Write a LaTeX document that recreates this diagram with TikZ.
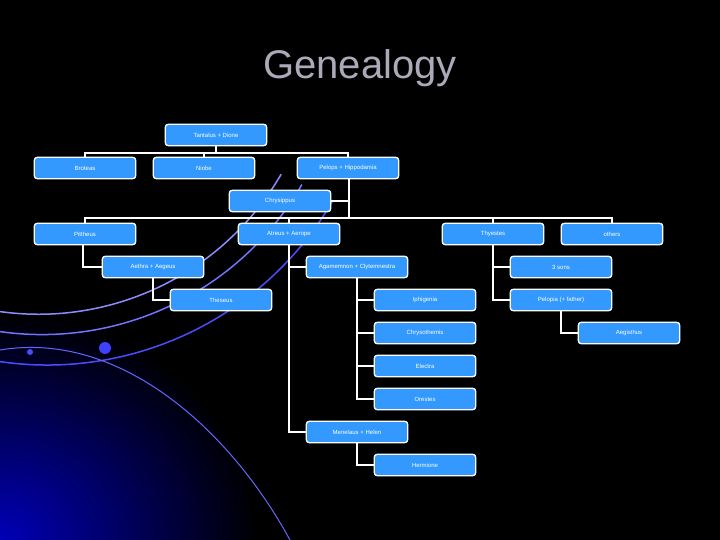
\documentclass[tikz,border=0pt]{standalone}
\usepackage{fontspec}
\setmainfont{Liberation Sans}
\definecolor{boxblue}{RGB}{51,153,255}
\definecolor{titlegrey}{RGB}{170,170,185}
\begin{document}
\begin{tikzpicture}[x=1pt,y=-1pt,
  person/.style={draw=white,line width=0.8pt,fill=boxblue,rounded corners=3pt,minimum width=101pt,minimum height=21pt,inner sep=0pt,text=white,font=\fontsize{6}{7}\selectfont},
  link/.style={draw=white,line width=2.6pt}]
\fill[black] (0,0) rectangle (720,540);
\useasboundingbox (0,0) rectangle (720,540);
% background swoosh
\begin{scope}
\clip (0,0) rectangle (720,540);
\shade[inner color=blue!80!black,outer color=black,opacity=0.9] (0,540) ellipse (260 and 230);
\foreach \r/\c in {330/blue!70,300/blue!55,280/blue!45}{
  \draw[\c,line width=1.5pt] (-10,\r+30) arc[start angle=100,end angle=30,radius=\r];}
\draw[blue!60,line width=1pt] (0,350) .. controls (120,330) and (230,430) .. (290,540);
\fill[blue!70] (30,352) circle (3);
\fill[blue!75] (105,348) circle (6);
\end{scope}
\node[text=titlegrey,font=\fontsize{40}{44}\selectfont] (title) at (360,68) {Genealogy};
% nodes
\node[person] (tan) at (216,135) {Tantalus + Dione};
\node[person] (bro) at (85,168) {Broteas};
\node[person] (nio) at (204,168) {Niobe};
\node[person] (pel) at (348,168) {Pelops + Hippodamia};
\node[person] (chr) at (280,201) {Chrysippus};
\node[person] (pit) at (85,234) {Pittheus};
\node[person] (atr) at (289,234) {Atreus + Aerope};
\node[person] (thy) at (493,234) {Thyestes};
\node[person] (oth) at (612,234) {others};
\node[person] (aet) at (153,267) {Aethra + Aegeus};
\node[person] (aga) at (357,267) {Agamemnon + Clytemnestra};
\node[person] (son) at (561,267) {3 sons};
\node[person] (the) at (221,300) {Theseus};
\node[person] (iph) at (425,300) {Iphigenia};
\node[person] (pla) at (561,300) {Pelopia (+ father)};
\node[person] (cht) at (425,333) {Chrysothemis};
\node[person] (aeg) at (629,333) {Aegisthus};
\node[person] (ele) at (425,366) {Electra};
\node[person] (ore) at (425,399) {Orestes};
\node[person] (men) at (357,432) {Menelaus + Helen};
\node[person] (her) at (425,465) {Hermione};
% connectors
\begin{scope}[on background layer/.style={}]
\end{scope}
\coordinate (b1) at (216,153);
\draw[link] (tan.south) -- (b1);
\draw[link] (bro.north) |- (b1);
\draw[link] (nio.north) -- (nio.north |- b1);
\draw[link] (pel.north) |- (b1);
\coordinate (b2) at (349,218);
\draw[link] (pel.south -| b2) -- (b2);
\draw[link] (chr.east) -| (b2);
\draw[link] (pit.north) |- (b2);
\draw[link] (atr.north) -- (atr.north |- b2);
\draw[link] (thy.north) -- (thy.north |- b2);
\draw[link] (oth.north) |- (b2);
\draw[link] ([xshift=-2pt]pit.south) |- (aet.west);
\draw[link] (aet.south) |- (the.west);
\draw[link] (atr.south) |- (aga.west);
\draw[link] (atr.south) |- (men.west);
\draw[link] (aga.south) |- (iph.west);
\draw[link] (aga.south) |- (cht.west);
\draw[link] (aga.south) |- (ele.west);
\draw[link] (aga.south) |- (ore.west);
\draw[link] (men.south) |- (her.west);
\draw[link] (thy.south) |- (son.west);
\draw[link] (thy.south) |- (pla.west);
\draw[link] (pla.south) |- (aeg.west);
% redraw boxes on top
\foreach \n in {tan,bro,nio,pel,chr,pit,atr,thy,oth,aet,aga,son,the,iph,pla,cht,aeg,ele,ore,men,her}{
  \draw[white,line width=0.8pt,fill=boxblue,rounded corners=3pt] (\n.south west) rectangle (\n.north east);}
\node[person] at (tan) {Tantalus + Dione};
\node[person] at (bro) {Broteas};
\node[person] at (nio) {Niobe};
\node[person] at (pel) {Pelops + Hippodamia};
\node[person] at (chr) {Chrysippus};
\node[person] at (pit) {Pittheus};
\node[person] at (atr) {Atreus + Aerope};
\node[person] at (thy) {Thyestes};
\node[person] at (oth) {others};
\node[person] at (aet) {Aethra + Aegeus};
\node[person] at (aga) {Agamemnon + Clytemnestra};
\node[person] at (son) {3 sons};
\node[person] at (the) {Theseus};
\node[person] at (iph) {Iphigenia};
\node[person] at (pla) {Pelopia (+ father)};
\node[person] at (cht) {Chrysothemis};
\node[person] at (aeg) {Aegisthus};
\node[person] at (ele) {Electra};
\node[person] at (ore) {Orestes};
\node[person] at (men) {Menelaus + Helen};
\node[person] at (her) {Hermione};
\end{tikzpicture}
\end{document}
